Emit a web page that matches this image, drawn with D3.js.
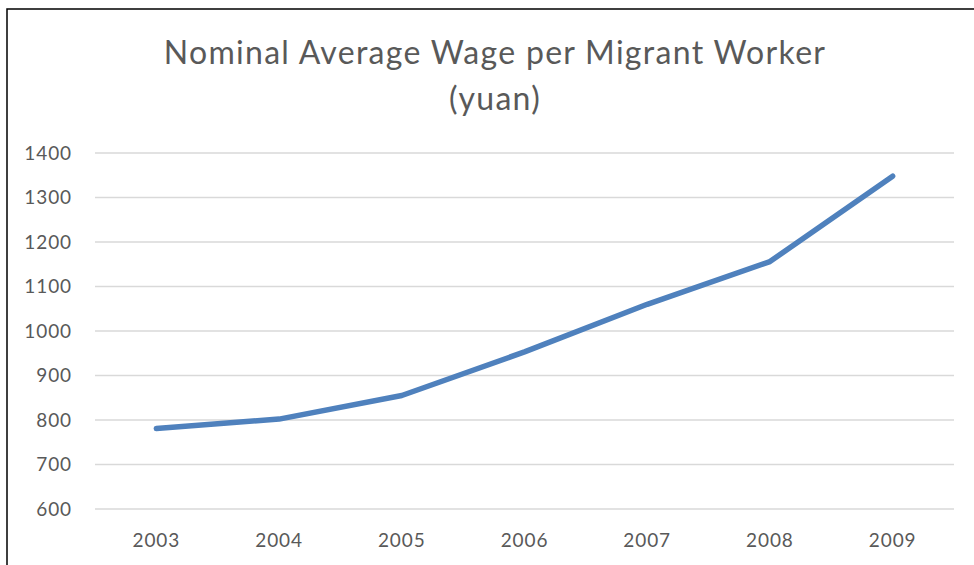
<!DOCTYPE html>
<html lang="en">
<head>
<meta charset="UTF-8">
<title>Nominal Average Wage per Migrant Worker</title>
<script src="https://d3js.org/d3.v7.min.js"></script>
<style>
  body { margin: 0; background: #fff; }
  svg { display: block; font-family: Lato, "Open Sans", sans-serif; }
</style>
</head>
<body>
<svg id="chart" width="974" height="565"></svg>
<script>
const years = ["2003", "2004", "2005", "2006", "2007", "2008", "2009"];
const wages = [781, 802, 855, 953, 1060, 1156, 1348];
const yTicks = [600, 700, 800, 900, 1000, 1100, 1200, 1300, 1400];
const titleLines = ["Nominal Average Wage per Migrant Worker", "(yuan)"];

const svg = d3.select("#chart");
const margin = { left: 95, right: 20, top: 153, bottom: 56 };
const width = 974, height = 565;

// frame
svg.append("rect")
    .attr("x", 7).attr("y", 9)
    .attr("width", 1000).attr("height", 600)
    .attr("fill", "#fff")
    .attr("stroke", "#000")
    .attr("stroke-width", 1.5);

const x = d3.scaleBand()
    .domain(years)
    .range([margin.left, width - margin.right]);

const y = d3.scaleLinear()
    .domain([600, 1400])
    .range([height - margin.bottom, margin.top]);

// gridlines
svg.append("g")
    .selectAll("line")
    .data(yTicks)
    .join("line")
    .attr("x1", margin.left)
    .attr("x2", width - margin.right)
    .attr("y1", d => y(d))
    .attr("y2", d => y(d))
    .attr("stroke", "#d9d9d9")
    .attr("stroke-width", 1.5);

// y labels
svg.append("g")
    .selectAll("text")
    .data(yTicks)
    .join("text")
    .attr("x", 72)
    .attr("y", d => y(d))
    .attr("dy", "0.35em")
    .attr("text-anchor", "end")
    .attr("fill", "#595959")
    .style("font-size", "19px")
    .style("letter-spacing", "0.9px")
    .text(d => d);

// x labels
svg.append("g")
    .selectAll("text")
    .data(years)
    .join("text")
    .attr("x", d => x(d) + x.bandwidth() / 2)
    .attr("y", 547)
    .attr("text-anchor", "middle")
    .attr("fill", "#595959")
    .style("font-size", "19px")
    .style("letter-spacing", "0.9px")
    .text(d => d);

// line
const line = d3.line()
    .x((d, i) => x(years[i]) + x.bandwidth() / 2)
    .y(d => y(d));

svg.append("path")
    .datum(wages)
    .attr("d", line)
    .attr("fill", "none")
    .attr("stroke", "#4f81bd")
    .attr("stroke-width", 5.5)
    .attr("stroke-linecap", "round")
    .attr("stroke-linejoin", "round");

// title
svg.append("g")
    .selectAll("text")
    .data(titleLines)
    .join("text")
    .attr("x", 495)
    .attr("y", (d, i) => 64 + i * 46)
    .attr("text-anchor", "middle")
    .attr("fill", "#595959")
    .style("font-size", "32px")
    .style("letter-spacing", "1.3px")
    .text(d => d);
</script>
</body>
</html>
